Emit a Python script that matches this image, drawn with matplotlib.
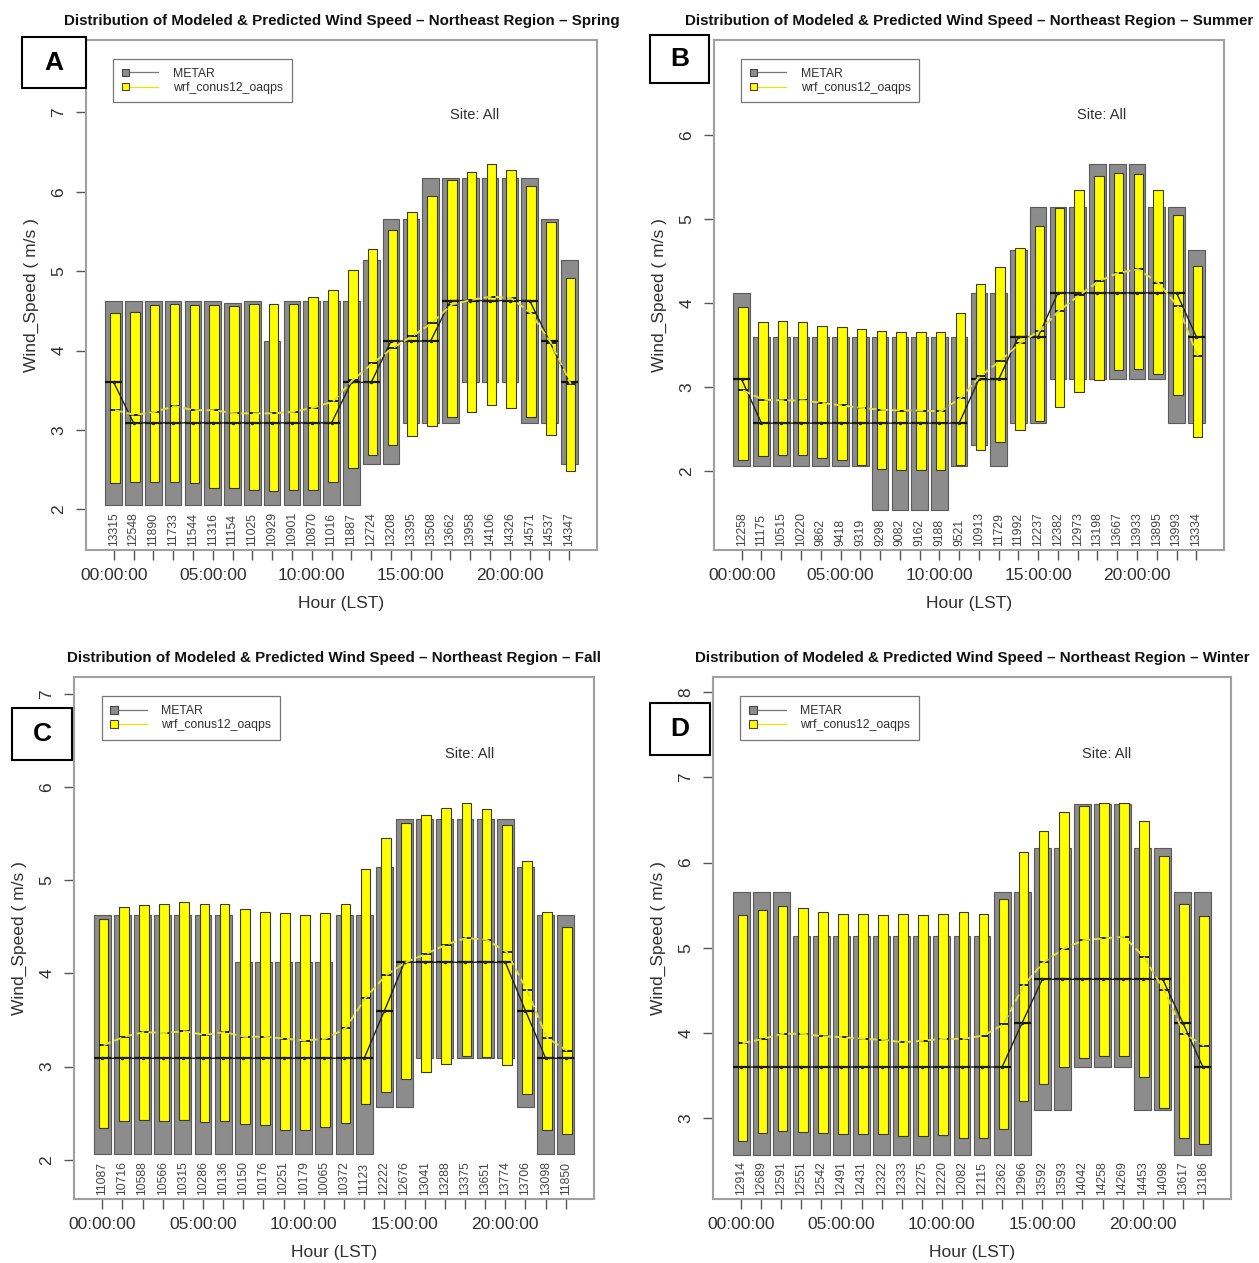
import numpy as np
import matplotlib
matplotlib.use("Agg")
import matplotlib.pyplot as plt
from matplotlib.patches import Rectangle, Patch
from matplotlib.lines import Line2D
from matplotlib.legend_handler import HandlerBase

plt.rcParams['font.family'] = ['Liberation Sans', 'DejaVu Sans']

# ---------------- data ----------------
hours = np.arange(24)
hour_tick_labels = ["00:00:00", "05:00:00", "10:00:00", "15:00:00", "20:00:00"]
series_names = ["METAR", "wrf_conus12_oaqps"]
seasons = ["Spring", "Summer", "Fall", "Winter"]
panel_letters = ["A", "B", "C", "D"]

spring_counts = [13315, 12548, 11890, 11733, 11544, 11316, 11154, 11025, 10929, 10901, 10870, 11016,
                 11887, 12724, 13208, 13395, 13508, 13662, 13958, 14106, 14326, 14571, 14537, 14347]
spring_metar_q1 = [2.06, 2.06, 2.06, 2.06, 2.06, 2.06, 2.06, 2.06, 2.06, 2.06, 2.06, 2.06,
                   2.06, 2.57, 2.57, 3.09, 3.09, 3.09, 3.60, 3.60, 3.60, 3.09, 3.09, 2.57]
spring_metar_med = [3.60, 3.09, 3.09, 3.09, 3.09, 3.09, 3.09, 3.09, 3.09, 3.09, 3.09, 3.09,
                    3.60, 3.60, 4.12, 4.12, 4.12, 4.63, 4.63, 4.63, 4.63, 4.63, 4.12, 3.60]
spring_metar_q3 = [4.63, 4.63, 4.63, 4.63, 4.63, 4.63, 4.60, 4.63, 4.12, 4.63, 4.63, 4.63,
                   4.63, 5.14, 5.66, 5.66, 6.17, 6.17, 6.17, 6.17, 6.17, 6.17, 5.66, 5.14]
spring_wrf_q1 = [2.33, 2.35, 2.35, 2.35, 2.33, 2.27, 2.27, 2.25, 2.23, 2.25, 2.25, 2.35,
                 2.52, 2.68, 2.81, 2.92, 3.05, 3.17, 3.23, 3.32, 3.28, 3.17, 2.94, 2.49]
spring_wrf_med = [3.25, 3.19, 3.23, 3.30, 3.25, 3.25, 3.21, 3.21, 3.21, 3.23, 3.28, 3.36,
                  3.63, 3.84, 4.03, 4.18, 4.35, 4.58, 4.64, 4.68, 4.66, 4.47, 4.10, 3.58]
spring_wrf_q3 = [4.47, 4.48, 4.58, 4.59, 4.58, 4.58, 4.56, 4.59, 4.59, 4.59, 4.67, 4.76,
                 5.01, 5.28, 5.52, 5.75, 5.95, 6.15, 6.25, 6.35, 6.27, 6.07, 5.62, 4.91]

summer_counts = [12258, 11175, 10515, 10220, 9862, 9418, 9319, 9298, 9082, 9162, 9188, 9521,
                 10913, 11729, 11992, 12237, 12382, 12973, 13198, 13667, 13933, 13895, 13993, 13334]
summer_metar_q1 = [2.06, 2.06, 2.06, 2.06, 2.06, 2.06, 2.06, 1.54, 1.54, 1.54, 1.54, 2.06,
                   2.31, 2.06, 2.57, 2.57, 3.09, 3.09, 3.09, 3.09, 3.09, 3.09, 2.57, 2.57]
summer_metar_med = [3.09, 2.57, 2.57, 2.57, 2.57, 2.57, 2.57, 2.57, 2.57, 2.57, 2.57, 2.57,
                    3.09, 3.09, 3.60, 3.60, 4.12, 4.12, 4.12, 4.12, 4.12, 4.12, 4.12, 3.60]
summer_metar_q3 = [4.12, 3.60, 3.60, 3.60, 3.60, 3.60, 3.60, 3.60, 3.60, 3.60, 3.60, 3.60,
                   4.12, 4.12, 4.63, 5.14, 5.14, 5.14, 5.66, 5.66, 5.66, 5.14, 5.14, 4.63]
summer_wrf_q1 = [2.13, 2.18, 2.19, 2.19, 2.15, 2.13, 2.07, 2.03, 2.01, 2.01, 2.01, 2.07,
                 2.25, 2.34, 2.49, 2.60, 2.76, 2.94, 3.08, 3.20, 3.22, 3.16, 2.90, 2.41]
summer_wrf_med = [2.96, 2.85, 2.84, 2.84, 2.81, 2.78, 2.75, 2.73, 2.72, 2.72, 2.71, 2.87,
                  3.13, 3.31, 3.52, 3.67, 3.91, 4.09, 4.26, 4.36, 4.40, 4.24, 3.96, 3.37]
summer_wrf_q3 = [3.95, 3.77, 3.79, 3.77, 3.73, 3.71, 3.69, 3.67, 3.65, 3.65, 3.65, 3.88,
                 4.23, 4.43, 4.66, 4.92, 5.13, 5.35, 5.51, 5.55, 5.53, 5.35, 5.05, 4.44]

fall_counts = [11087, 10716, 10588, 10566, 10315, 10286, 10136, 10150, 10176, 10251, 10179, 10065,
               10372, 11123, 12222, 12676, 13041, 13288, 13375, 13651, 13774, 13706, 13098, 11850]
fall_metar_q1 = [2.06, 2.06, 2.06, 2.06, 2.06, 2.06, 2.06, 2.06, 2.06, 2.06, 2.06, 2.06,
                 2.06, 2.06, 2.57, 2.57, 3.09, 3.09, 3.09, 3.09, 3.09, 2.57, 2.06, 2.06]
fall_metar_med = [3.09, 3.09, 3.09, 3.09, 3.09, 3.09, 3.09, 3.09, 3.09, 3.09, 3.09, 3.09,
                  3.09, 3.09, 3.60, 4.12, 4.12, 4.12, 4.12, 4.12, 4.12, 3.60, 3.09, 3.09]
fall_metar_q3 = [4.63, 4.63, 4.63, 4.63, 4.63, 4.63, 4.63, 4.12, 4.12, 4.12, 4.12, 4.12,
                 4.63, 4.63, 5.14, 5.66, 5.66, 5.66, 5.66, 5.66, 5.66, 5.14, 4.63, 4.63]
fall_wrf_q1 = [2.34, 2.42, 2.43, 2.42, 2.43, 2.41, 2.42, 2.38, 2.37, 2.32, 2.32, 2.35,
               2.39, 2.60, 2.73, 2.87, 2.94, 3.03, 3.11, 3.10, 3.02, 2.71, 2.32, 2.28]
fall_wrf_med = [3.23, 3.32, 3.37, 3.36, 3.38, 3.34, 3.37, 3.32, 3.32, 3.30, 3.28, 3.30,
                3.41, 3.74, 3.98, 4.12, 4.21, 4.31, 4.38, 4.36, 4.23, 3.82, 3.31, 3.17]
fall_wrf_q3 = [4.58, 4.71, 4.73, 4.75, 4.77, 4.75, 4.75, 4.69, 4.66, 4.65, 4.63, 4.65,
               4.74, 5.12, 5.45, 5.61, 5.70, 5.77, 5.83, 5.76, 5.59, 5.21, 4.66, 4.50]

winter_counts = [12914, 12689, 12591, 12551, 12542, 12491, 12431, 12322, 12333, 12275, 12220, 12082,
                 12115, 12362, 12966, 13592, 13593, 14042, 14258, 14269, 14453, 14098, 13617, 13186]
winter_metar_q1 = [2.57, 2.57, 2.57, 2.57, 2.57, 2.57, 2.57, 2.57, 2.57, 2.57, 2.57, 2.57,
                   2.57, 2.57, 2.57, 3.09, 3.09, 3.60, 3.60, 3.60, 3.09, 3.09, 2.57, 2.57]
winter_metar_med = [3.60, 3.60, 3.60, 3.60, 3.60, 3.60, 3.60, 3.60, 3.60, 3.60, 3.60, 3.60,
                    3.60, 3.60, 4.12, 4.63, 4.63, 4.63, 4.63, 4.63, 4.63, 4.63, 4.12, 3.60]
winter_metar_q3 = [5.66, 5.66, 5.66, 5.14, 5.14, 5.14, 5.14, 5.14, 5.14, 5.14, 5.14, 5.14,
                   5.14, 5.66, 5.66, 6.17, 6.17, 6.69, 6.69, 6.69, 6.17, 6.17, 5.66, 5.66]
winter_wrf_q1 = [2.73, 2.83, 2.85, 2.84, 2.83, 2.81, 2.81, 2.81, 2.79, 2.79, 2.80, 2.77,
                 2.77, 2.87, 3.20, 3.40, 3.60, 3.70, 3.73, 3.73, 3.48, 3.12, 2.77, 2.70]
winter_wrf_med = [3.88, 3.93, 3.99, 3.99, 3.96, 3.95, 3.93, 3.92, 3.89, 3.91, 3.93, 3.93,
                  3.97, 4.10, 4.56, 4.83, 4.99, 5.09, 5.11, 5.13, 4.89, 4.50, 3.99, 3.85]
winter_wrf_q3 = [5.38, 5.44, 5.49, 5.47, 5.42, 5.40, 5.40, 5.39, 5.40, 5.38, 5.40, 5.42,
                 5.40, 5.57, 6.12, 6.37, 6.59, 6.66, 6.70, 6.70, 6.49, 6.08, 5.52, 5.37]

# ---------------- layout (pixels) ----------------
W, H = 1259, 1263
panels = [
    dict(season=seasons[0], letter=panel_letters[0], frame=(86, 40, 597, 550), ylim=(1.49, 7.91),
         yticks=[2, 3, 4, 5, 6, 7], box=(22, 37, 86, 88),
         counts=spring_counts, m=(spring_metar_q1, spring_metar_med, spring_metar_q3),
         w=(spring_wrf_q1, spring_wrf_med, spring_wrf_q3)),
    dict(season=seasons[1], letter=panel_letters[1], frame=(714, 40, 1224, 550), ylim=(1.06, 7.13),
         yticks=[2, 3, 4, 5, 6], box=(650, 35, 709, 83),
         counts=summer_counts, m=(summer_metar_q1, summer_metar_med, summer_metar_q3),
         w=(summer_wrf_q1, summer_wrf_med, summer_wrf_q3)),
    dict(season=seasons[2], letter=panel_letters[2], frame=(74, 677, 594, 1199), ylim=(1.58, 7.18),
         yticks=[2, 3, 4, 5, 6, 7], box=(12, 708, 72, 760),
         counts=fall_counts, m=(fall_metar_q1, fall_metar_med, fall_metar_q3),
         w=(fall_wrf_q1, fall_wrf_med, fall_wrf_q3)),
    dict(season=seasons[3], letter=panel_letters[3], frame=(713, 677, 1231, 1199), ylim=(2.05, 8.18),
         yticks=[3, 4, 5, 6, 7, 8], box=(650, 703, 710, 755),
         counts=winter_counts, m=(winter_metar_q1, winter_metar_med, winter_metar_q3),
         w=(winter_wrf_q1, winter_wrf_med, winter_wrf_q3)),
]

GRAY = "#8c8c8c"
GRAY_EDGE = "#5a5a5a"
YEL = "#ffff00"
YEL_EDGE = "#3a3a1a"
YEL_LINE = "#dede3c"
FRAME = "#a0a0a0"
TXT = "#303030"


class SquareLineHandler(HandlerBase):
    def create_artists(self, legend, orig, xd, yd, width, height, fontsize, trans):
        s = height * 0.75
        x0 = -xd
        y0 = -yd + (height - s) / 2
        sq = Rectangle((x0, y0), s, s, facecolor=orig.get_facecolor(),
                       edgecolor="#444444", lw=0.8, transform=trans)
        ln = Line2D([x0 + s, x0 + width], [-yd + height / 2] * 2,
                    color=orig._line_color, lw=0.9, transform=trans)
        return [ln, sq]


fig = plt.figure(figsize=(W / 100, H / 100), dpi=100)

gray_w = 0.84
yel_w = 0.48
yel_off = 0.07

for p in panels:
    l, t, r, b = p["frame"]
    ax = fig.add_axes([l / W, 1 - b / H, (r - l) / W, (b - t) / H])
    mq1, mmed, mq3 = [np.asarray(v) for v in p["m"]]
    wq1, wmed, wq3 = [np.asarray(v) for v in p["w"]]

    ax.bar(hours, mq3 - mq1, bottom=mq1, width=gray_w, color=GRAY,
           edgecolor=GRAY_EDGE, linewidth=0.8, zorder=2)
    ax.bar(hours + yel_off, wq3 - wq1, bottom=wq1, width=yel_w, color=YEL,
           edgecolor=YEL_EDGE, linewidth=0.8, zorder=3)

    # medians
    ax.hlines(mmed, hours - gray_w / 2, hours + gray_w / 2, colors="#111111", lw=1.6, zorder=5)
    ax.hlines(wmed, hours + yel_off - yel_w / 2, hours + yel_off + yel_w / 2,
              colors="#111111", lw=1.3, zorder=5)
    ax.plot(hours, mmed, color="#222222", lw=1.0, marker=".", ms=3, zorder=6)
    ax.plot(hours + yel_off, wmed, color=YEL_LINE, lw=1.4, ls=(0, (4, 2)), zorder=6)

    # counts
    for h, c in zip(hours, p["counts"]):
        ax.text(h, 0.007, str(c), rotation=90, ha="center", va="bottom",
                fontsize=8.8, color="#444444", transform=ax.get_xaxis_transform())

    ax.set_xlim(-1.4, 24.4)
    ax.set_ylim(*p["ylim"])
    ax.set_xticks(hours)
    ax.set_xticklabels([hour_tick_labels[h // 5] if h % 5 == 0 else "" for h in hours])
    ax.set_yticks(p["yticks"])
    ax.set_yticklabels([str(v) for v in p["yticks"]], rotation=90, va="center")
    ax.tick_params(axis="both", direction="out", length=7, width=1.0, color="#555555",
                   labelsize=12.5, labelcolor=TXT)
    ax.tick_params(axis="x", pad=6)
    ax.tick_params(axis="y", pad=7)
    for s in ax.spines.values():
        s.set_color(FRAME)
        s.set_linewidth(1.5)

    ax.set_xlabel("Hour (LST)", fontsize=12.5, color=TXT, labelpad=9)
    ax.set_ylabel("Wind_Speed ( m/s )", fontsize=12.5, color=TXT, labelpad=9)
    ax.set_title("Distribution of Modeled & Predicted Wind Speed \u2013 Northeast Region \u2013 "
                 + p["season"], fontsize=10.9, fontweight="bold", color="#111111", pad=11)

    ax.text(0.76, 0.852, "Site: All", transform=ax.transAxes, fontsize=10.5,
            color=TXT, ha="center", va="center")

    h1 = Patch(facecolor=GRAY, label=series_names[0])
    h1._line_color = "#777777"
    h2 = Patch(facecolor=YEL, label=series_names[1])
    h2._line_color = "#e6e600"
    leg = ax.legend(handles=[h1, h2], loc="upper left", bbox_to_anchor=(0.053, 0.963),
                    borderaxespad=0, fontsize=8.8, frameon=True, fancybox=False,
                    handler_map={Patch: SquareLineHandler()}, handlelength=3.0,
                    handleheight=0.9, handletextpad=1.2, borderpad=0.7, labelspacing=0.15)
    leg.get_frame().set_edgecolor("#555555")
    leg.get_frame().set_linewidth(0.9)
    for tx in leg.get_texts():
        tx.set_color(TXT)

    # panel letter box
    bl, bt, br, bb = p["box"]
    fig.patches.append(Rectangle((bl / W, 1 - bb / H), (br - bl) / W, (bb - bt) / H,
                                 transform=fig.transFigure, facecolor="white",
                                 edgecolor="black", lw=1.5, zorder=10))
    fig.text((bl + br) / 2 / W, 1 - (bt + bb) / 2 / H, p["letter"], ha="center", va="center",
             fontsize=19, fontweight="bold", color="black", zorder=11)

fig.savefig("out.png", dpi=100)
